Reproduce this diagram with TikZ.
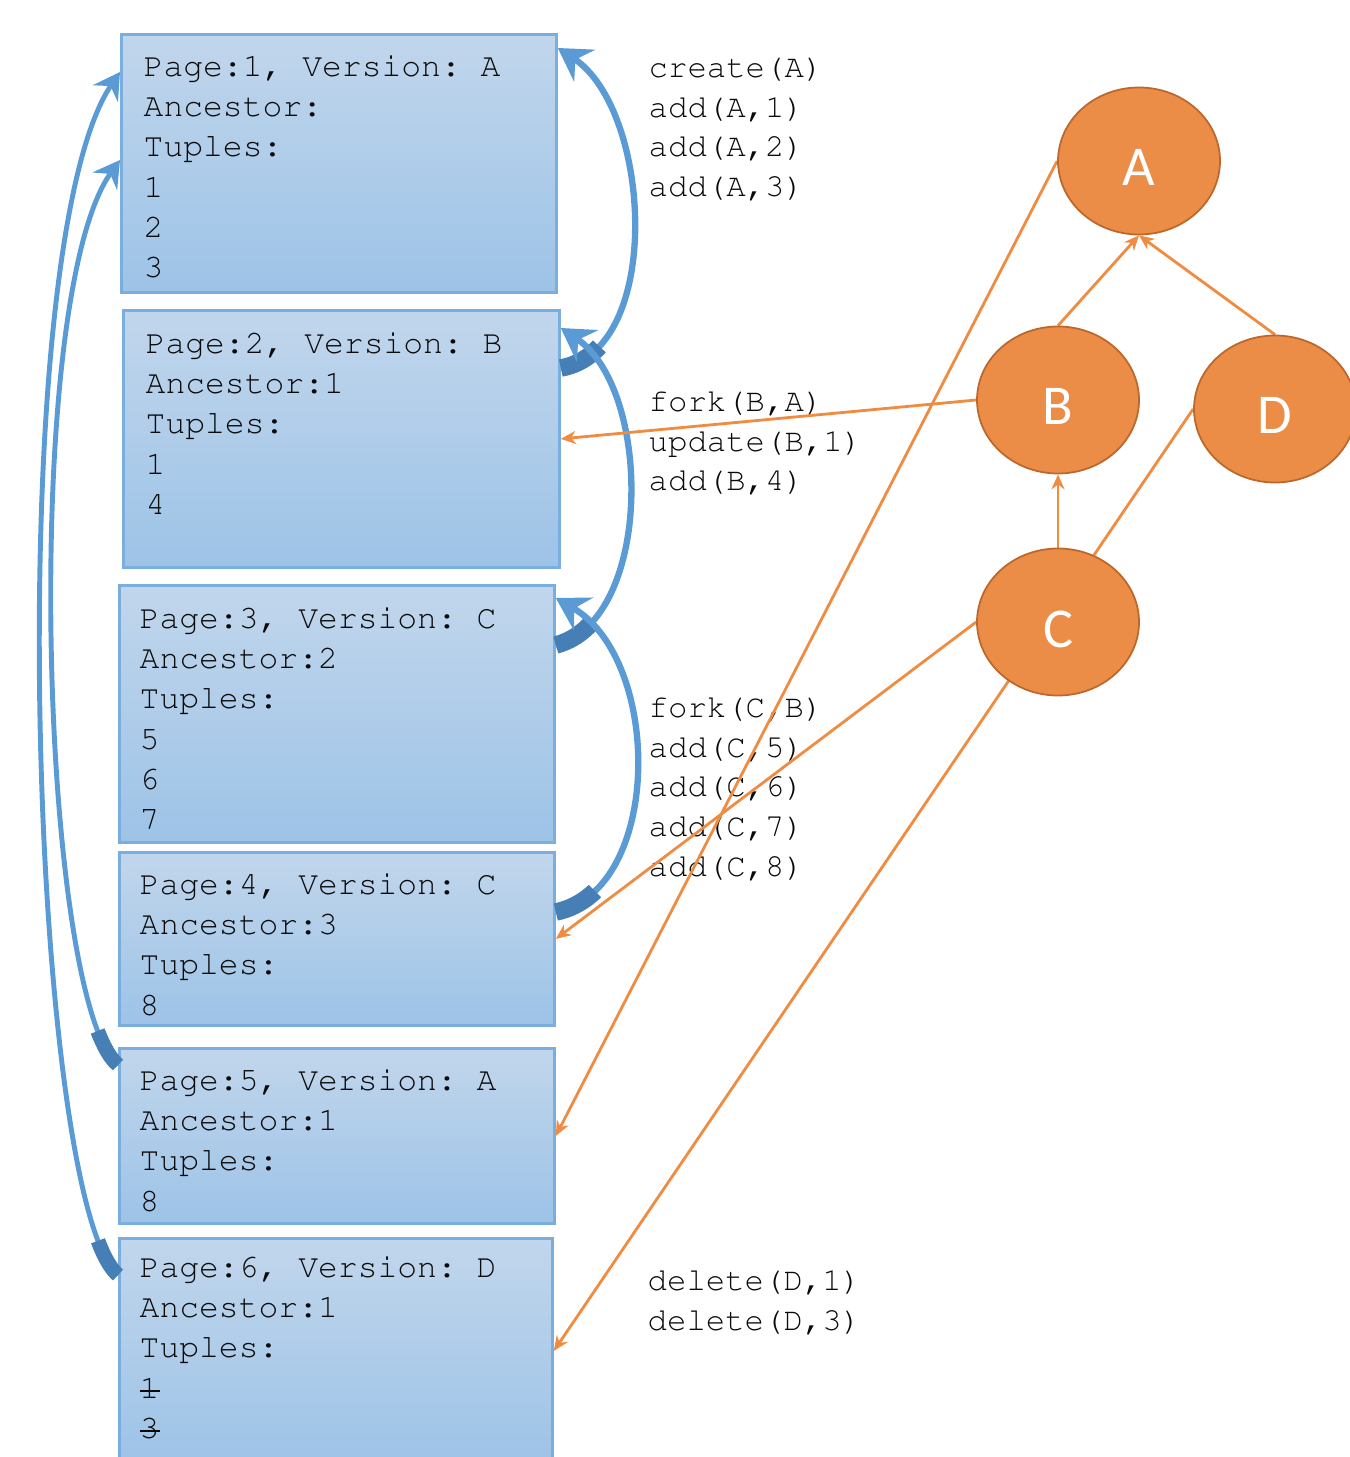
\documentclass[tikz,border=0pt]{standalone}
\usepackage[T1]{fontenc}
\usepackage{fontspec}
\newfontfamily\versionfont{Carlito}
\newcommand{\pagefont}{\fontencoding{T1}\fontfamily{pcr}\selectfont\frenchspacing}
\usepackage{tikz}
\usetikzlibrary{arrows.meta,backgrounds,shapes.geometric}
\definecolor{pagetop}{RGB}{193,214,236}
\definecolor{pagebottom}{RGB}{157,195,231}
\definecolor{pageborder}{RGB}{122,174,222}
\definecolor{linkblue}{RGB}{91,155,213}
\definecolor{linkdark}{RGB}{70,127,182}
\definecolor{versionfill}{RGB}{235,140,71}
\definecolor{versionborder}{RGB}{188,104,44}
\definecolor{versionline}{RGB}{240,140,66}
\definecolor{inkgray}{RGB}{10,10,10}
\newcommand{\struck}[1]{\rlap{\rule[0.4ex]{0.6em}{0.6pt}}#1}

\begin{document}
\begin{tikzpicture}[x=0.1mm, y=-0.1mm,
  page/.style={draw=pageborder, line width=0.8pt, top color=pagetop, bottom color=pagebottom, anchor=north west, inner sep=0pt},
  pagetext/.style={anchor=north west, align=left, inner sep=0pt, text=inkgray, font=\fontsize{9.4pt}{11.4pt}\pagefont},
  optext/.style={anchor=north west, align=left, inner sep=0pt, text=inkgray, font=\fontsize{9.2pt}{11.3pt}\pagefont},
  version/.style={ellipse, draw=versionborder, line width=0.5pt, fill=versionfill, text=white, inner sep=0pt, minimum width=16.2mm, minimum height=14.7mm, text height=5mm, text depth=0pt, font=\versionfont\fontsize{16pt}{18pt}\selectfont},
  rightlink/.style={draw=linkblue, line width=1.8pt, -{Stealth[length=3.2mm,width=3.8mm,inset=1.1mm]}, postaction={draw=linkdark, arrows=-, line width=5pt, dash pattern=on 4.5mm off 300mm}},
  leftlink/.style={draw=linkblue, line width=1.4pt, -{Stealth[length=2.6mm,width=3mm,inset=0.9mm]}, postaction={draw=linkdark, arrows=-, line width=4.2pt, dash pattern=on 4mm off 300mm}},
  vlink/.style={draw=versionline, line width=0.8pt, -{Stealth[length=1.5mm,width=1.3mm]}}]
\useasboundingbox (0,0) rectangle (1349,1457);

\node[version] (A) at (1139,161) {A};
\node[version] (B) at (1058,400) {B};
\node[version] (C) at (1058,622) {C};
\node[version] (D) at (1275,409) {D};

\begin{pgfonlayer}{background}
\node[page, minimum width=43.5mm, minimum height=25.8mm] (p1) at (120,33) {};
\node[page, minimum width=43.6mm, minimum height=25.7mm] (p2) at (122,309) {};
\node[page, minimum width=43.5mm, minimum height=25.7mm] (p3) at (118,584) {};
\node[page, minimum width=43.5mm, minimum height=17.3mm] (p4) at (118,851) {};
\node[page, minimum width=43.5mm, minimum height=17.5mm] (p5) at (118,1047) {};
\node[page, minimum width=43.3mm, minimum height=22.5mm] (p6) at (118,1237) {};

\node[pagetext] (t1) at ([xshift=2.3mm,yshift=-2.2mm]p1.north west) {Page:1, Version: A\\Ancestor:\\Tuples:\\1\\2\\3};
\node[pagetext] (t2) at ([xshift=2.3mm,yshift=-2.3mm]p2.north west) {Page:2, Version: B\\Ancestor:1\\Tuples:\\1\\4};
\node[pagetext] (t3) at ([xshift=2.1mm,yshift=-2.3mm]p3.north west) {Page:3, Version: C\\Ancestor:2\\Tuples:\\5\\6\\7};
\node[pagetext] (t4) at ([xshift=2.1mm,yshift=-2.2mm]p4.north west) {Page:4, Version: C\\Ancestor:3\\Tuples:\\8};
\node[pagetext] (t5) at ([xshift=2.1mm,yshift=-2.2mm]p5.north west) {Page:5, Version: A\\Ancestor:1\\Tuples:\\8};
\node[pagetext] (t6) at ([xshift=2.1mm,yshift=-1.9mm]p6.north west) {Page:6, Version: D\\Ancestor:1\\Tuples:\\\struck{1}\\\struck{3}};

\node[optext] (ops1) at (648,56) {create(A)\\add(A,1)\\add(A,2)\\add(A,3)};
\node[optext] (ops2) at (648,390) {fork(B,A)\\update(B,1)\\add(B,4)};
\node[optext] (ops3) at (648,696) {fork(C,B)\\add(C,5)\\add(C,6)\\add(C,7)\\add(C,8)};
\node[optext] (ops4) at (647,1269) {delete(D,1)\\delete(D,3)};

\draw[rightlink] ([yshift=-5.9mm]p2.north east) .. controls +(103,-18) and +(94,62) .. ([yshift=-1.5mm]p1.north east);
\draw[rightlink] ([yshift=-6.1mm]p3.north east) .. controls +(97,-25) and +(92,62) .. ([yshift=-1.9mm]p2.north east);
\draw[rightlink] ([yshift=-6.1mm]p4.north east) .. controls +(107,-22) and +(107,62) .. ([yshift=-1.4mm]p3.north east);
\draw[leftlink] ([yshift=-1.8mm]p5.north west) .. controls +(-78,-65) and +(-100,140) .. ([yshift=-12.7mm]p1.north west);
\draw[leftlink] ([yshift=-3.8mm]p6.north west) .. controls +(-88,-75) and +(-120,178) .. ([yshift=-3.9mm]p1.north west);

\draw[vlink] (A.west) -- (p5.east);
\draw[vlink] (B.west) -- (p2.east);
\draw[vlink] (C.west) -- (p4.east);
\draw[vlink] (D.west) -- (p6.east);
\draw[vlink] (B.north) -- (A.south);
\draw[vlink] (D.north) -- (A.south);
\draw[vlink] (C.north) -- (B.south);
\end{pgfonlayer}
\end{tikzpicture}
\end{document}
